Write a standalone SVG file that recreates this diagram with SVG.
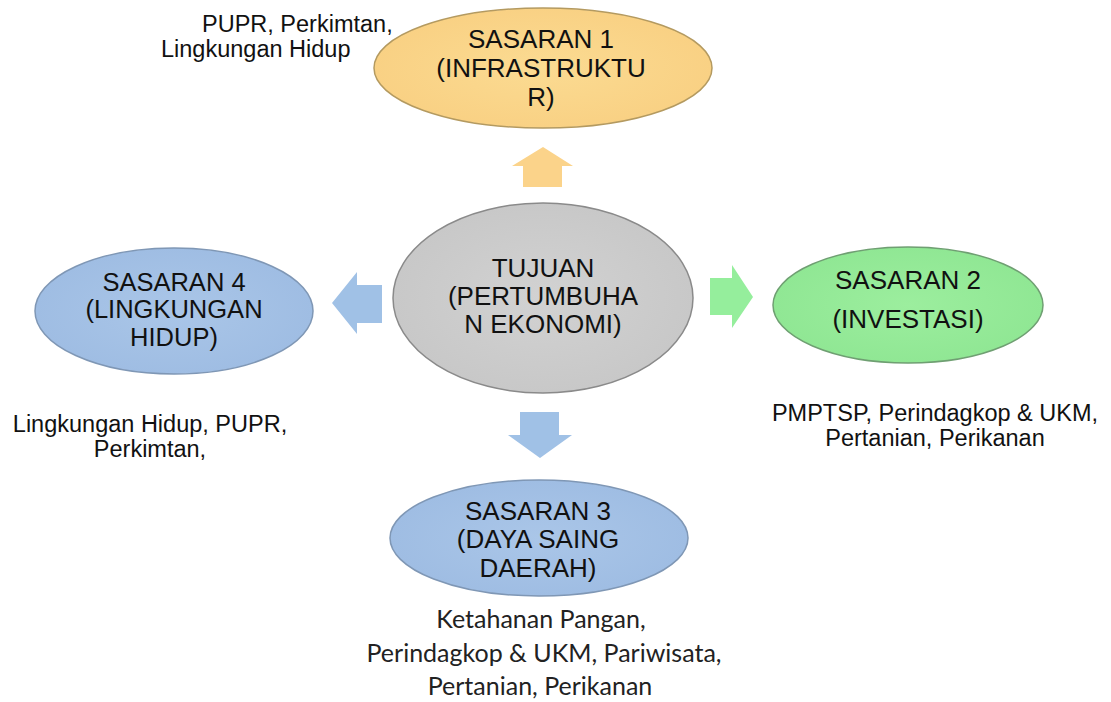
<svg xmlns="http://www.w3.org/2000/svg" width="1111" height="702" viewBox="0 0 1111 702">
<defs>
<radialGradient id="gOrange" cx="50%" cy="50%" r="50%"><stop offset="0" stop-color="#fbdb92"/><stop offset="1" stop-color="#f9d184"/></radialGradient>
<radialGradient id="gGray" cx="50%" cy="50%" r="50%"><stop offset="0" stop-color="#d2d2d2"/><stop offset="1" stop-color="#c8c8c8"/></radialGradient>
<radialGradient id="gGreen" cx="50%" cy="50%" r="50%"><stop offset="0" stop-color="#9cee9e"/><stop offset="1" stop-color="#90e794"/></radialGradient>
<radialGradient id="gBlue" cx="50%" cy="50%" r="50%"><stop offset="0" stop-color="#aac6e8"/><stop offset="1" stop-color="#9fbde3"/></radialGradient>
</defs>
<style>
.lbl{font-family:"Liberation Sans",Arial,sans-serif;font-size:26px;fill:#111;text-anchor:middle}
.note{font-family:"Liberation Sans",Arial,sans-serif;font-size:23.5px;fill:#111}
.noteC{font-family:Lato,"Noto Sans",sans-serif;font-size:25px;fill:#222;text-anchor:middle}
.ell{stroke-width:1.5}
</style>
<rect width="1111" height="702" fill="#ffffff"/>
<g id="connectors">
<polygon points="543,147 573,166 562,166 562,187 523,187 523,166 512,166" fill="#fbd38a"/>
<polygon points="332,303 357,272 357,285 382,285 382,323 357,323 357,334" fill="#a0c1e6"/>
<polygon points="753,297 732,265 732,278 710,278 710,315 732,315 732,328" fill="#95ee9c"/>
<polygon points="540,458 572,435 559,435 559,412 520,412 520,435 508,435" fill="#a0c1e6"/>
</g>
<g id="sasaran1">
<ellipse class="ell" cx="543" cy="68" rx="169" ry="60" fill="url(#gOrange)" stroke="#b49a60"/>
<text class="lbl" x="541" y="48">SASARAN 1</text>
<text class="lbl" x="541" y="77">(INFRASTRUKTU</text>
<text class="lbl" x="541" y="106">R)</text>
</g>
<g id="tujuan">
<ellipse class="ell" cx="543" cy="298" rx="150" ry="95" fill="url(#gGray)" stroke="#8a8a8a"/>
<text class="lbl" x="543" y="277">TUJUAN</text>
<text class="lbl" x="543" y="305">(PERTUMBUHA</text>
<text class="lbl" x="543" y="333">N EKONOMI)</text>
</g>
<g id="sasaran2">
<ellipse class="ell" cx="908" cy="305" rx="135" ry="58" fill="url(#gGreen)" stroke="#6f9f72"/>
<text class="lbl" x="908" y="289">SASARAN 2</text>
<text class="lbl" x="908" y="328">(INVESTASI)</text>
</g>
<g id="sasaran4">
<ellipse class="ell" cx="174" cy="311" rx="139" ry="63" fill="url(#gBlue)" stroke="#7f97b5"/>
<text class="lbl" x="174" y="291" style="font-size:25.5px">SASARAN 4</text>
<text class="lbl" x="174" y="318" style="font-size:25.5px">(LINGKUNGAN</text>
<text class="lbl" x="174" y="346" style="font-size:25.5px">HIDUP)</text>
</g>
<g id="sasaran3">
<ellipse class="ell" cx="539" cy="538" rx="149" ry="58" fill="url(#gBlue)" stroke="#7f97b5"/>
<text class="lbl" x="538" y="520">SASARAN 3</text>
<text class="lbl" x="538" y="548">(DAYA SAING</text>
<text class="lbl" x="538" y="577">DAERAH)</text>
</g>
<g id="note1">
<text class="note" x="202" y="32">PUPR, Perkimtan,</text>
<text class="note" x="161" y="57">Lingkungan Hidup</text>
</g>
<g id="note4">
<text class="note" x="150" y="432" text-anchor="middle">Lingkungan Hidup, PUPR,</text>
<text class="note" x="150" y="457" text-anchor="middle">Perkimtan,</text>
</g>
<g id="note2">
<text class="note" x="935" y="421" text-anchor="middle">PMPTSP, Perindagkop &amp; UKM,</text>
<text class="note" x="935" y="446" text-anchor="middle">Pertanian, Perikanan</text>
</g>
<g id="note3">
<text class="noteC" x="541" y="628">Ketahanan Pangan,</text>
<text class="noteC" x="544" y="662">Perindagkop &amp; UKM, Pariwisata,</text>
<text class="noteC" x="540" y="695">Pertanian, Perikanan</text>
</g>
</svg>
